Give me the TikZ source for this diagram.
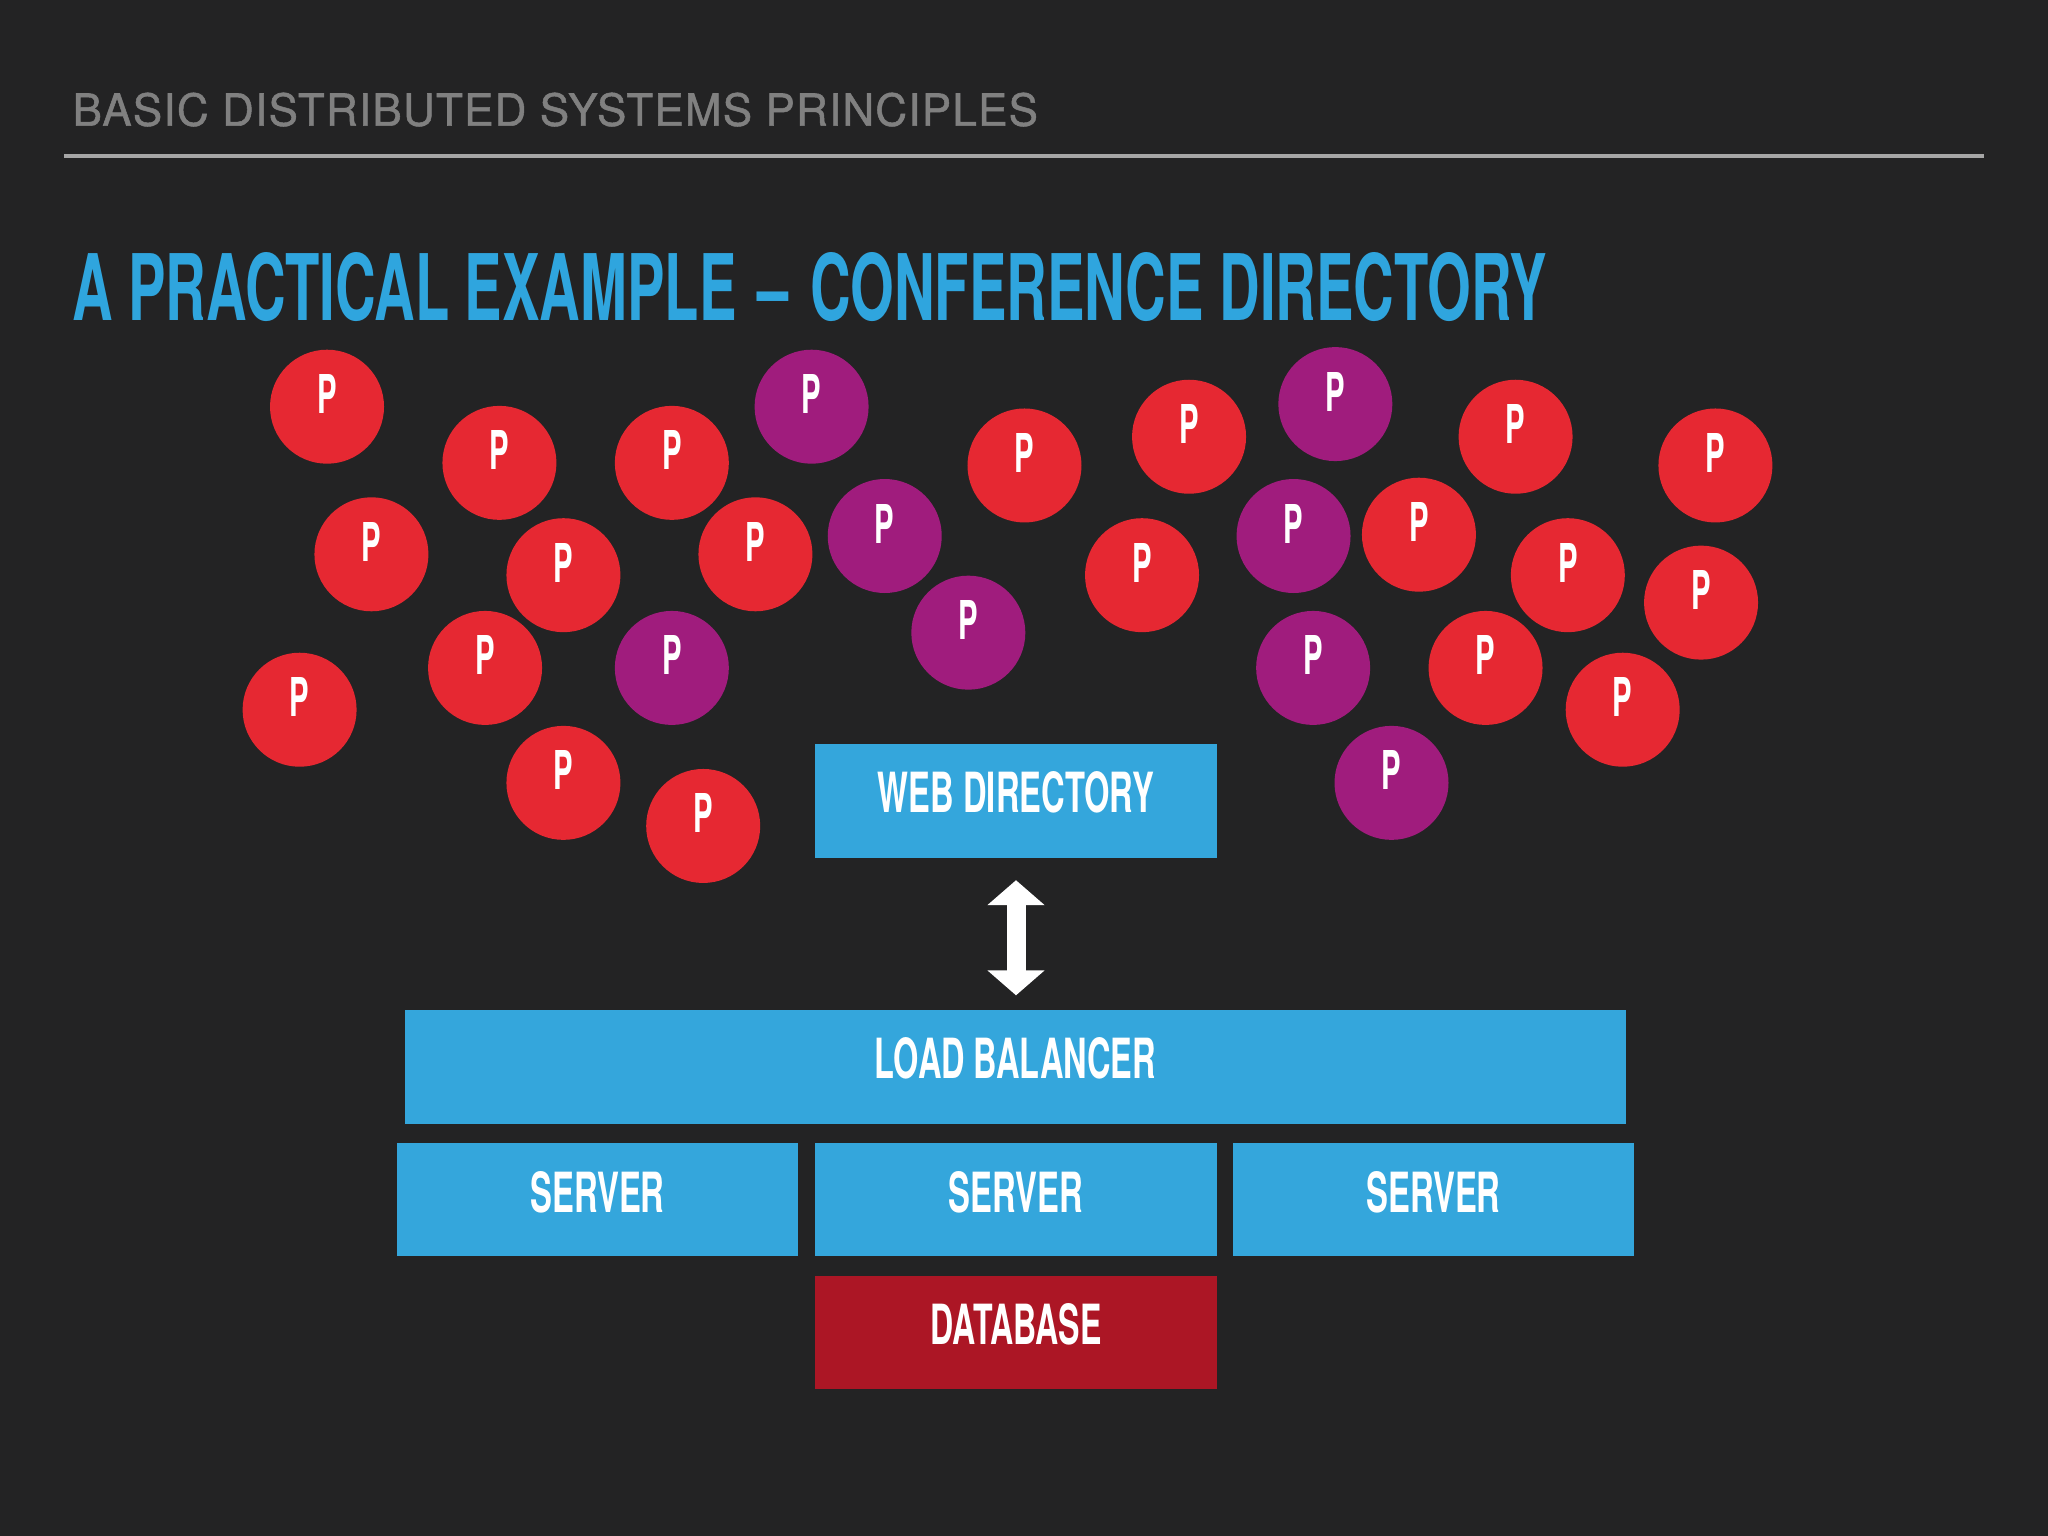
\documentclass[tikz,border=0pt]{standalone}
\usepackage{graphicx}
\usepackage{fontspec}
\setmainfont{TeX Gyre Heros}
\newfontfamily\headfont[FakeBold=1.2,LetterSpace=3]{TeX Gyre Heros}
\usetikzlibrary{arrows.meta}
\definecolor{bgc}{HTML}{232324}
\definecolor{boxblue}{HTML}{34A6DC}
\definecolor{titleblue}{HTML}{2FA5DE}
\definecolor{pred}{HTML}{E62832}
\definecolor{ppurple}{HTML}{A01C7D}
\definecolor{dbred}{HTML}{AC1625}
\definecolor{headgray}{HTML}{808080}
\definecolor{rulegray}{HTML}{A6A6A6}
\newcommand{\fitcaps}[3]{\resizebox{#1pt}{#2pt}{#3}}
\newcommand{\boxlabel}[3]{\raisebox{-#3pt}[0pt][0pt]{\fitcaps{#1}{41}{\bfseries #2}}}
\tikzset{
  pbubble/.style={circle,inner sep=0pt,minimum size=114pt,text=white},
  redp/.style={pbubble,fill=pred},
  purplep/.style={pbubble,fill=ppurple},
  blockbox/.style={rectangle,inner sep=0pt,minimum height=114pt,text=white},
  bluebox/.style={blockbox,fill=boxblue},
  dbbox/.style={blockbox,fill=dbred},
  bigarrow/.style={white,line width=19pt,{Triangle[width=56pt,length=25pt]}-{Triangle[width=56pt,length=25pt]},shorten <=22pt,shorten >=14pt},
  headtext/.style={anchor=base west,inner sep=0pt}
}
\newcommand{\plabel}{\raisebox{-7pt}[0pt][0pt]{\fitcaps{19.5}{39}{\bfseries P}}}
\begin{document}
\begin{tikzpicture}[x=1pt,y=-1pt]
\fill[bgc] (0,0) rectangle (2048,1536);
\node[headtext,text=headgray] (head) at (72.5,125.7) {\fitcaps{965}{33}{\headfont BASIC DISTRIBUTED SYSTEMS PRINCIPLES}};
\coordinate (ruleL) at (64,156.5);
\coordinate (ruleR) at (1984,156.5);
\draw[rulegray,line width=4pt] (ruleL) -- (ruleR);
\node[headtext,text=titleblue] (title) at (72,320) {\fitcaps{1475}{68}{\bfseries A PRACTICAL EXAMPLE\hspace{.1em} – \hspace{.1em}CONFERENCE DIRECTORY}};
\foreach \x/\y [count=\i] in {250/311,382/354,514/354,284/424,431/440,578/424,371/511,229/543,431/599,538/632,784/356,910/334,874/440,1086/409,1160/334,1313/356,1200/440,1302/461,1137/511,1242/543}
  \node[redp] (r\i) at ({\x*1.3061+0.5},{\y*1.3061+0.5}) {\plabel};
\foreach \x/\y [count=\i] in {621/311,677/410,741/484,514/511,1022/309,990/410,1005/511,1065/599}
  \node[purplep] (m\i) at ({\x*1.3061+0.5},{\y*1.3061+0.5}) {\plabel};
\node[bluebox,minimum width=402pt] (web) at (1016,801) {\boxlabel{276}{WEB DIRECTORY}{11}};
\node[bluebox,minimum width=1221pt] (lb) at (1015.5,1066.5) {\boxlabel{281}{LOAD BALANCER}{12}};
\node[bluebox,minimum width=401pt,minimum height=113pt] (s1) at (597.5,1199.5) {\boxlabel{134}{SERVER}{13}};
\node[bluebox,minimum width=402pt,minimum height=113pt] (s2) at (1016,1199.5) {\boxlabel{134}{SERVER}{13}};
\node[bluebox,minimum width=401pt,minimum height=113pt] (s3) at (1433.5,1199.5) {\boxlabel{134}{SERVER}{13}};
\node[dbbox,minimum width=402pt,minimum height=113pt] (db) at (1016,1332.5) {\boxlabel{171}{DATABASE}{12}};
\draw[bigarrow] (web.south) -- (web.south |- lb.north);
\end{tikzpicture}
\end{document}
